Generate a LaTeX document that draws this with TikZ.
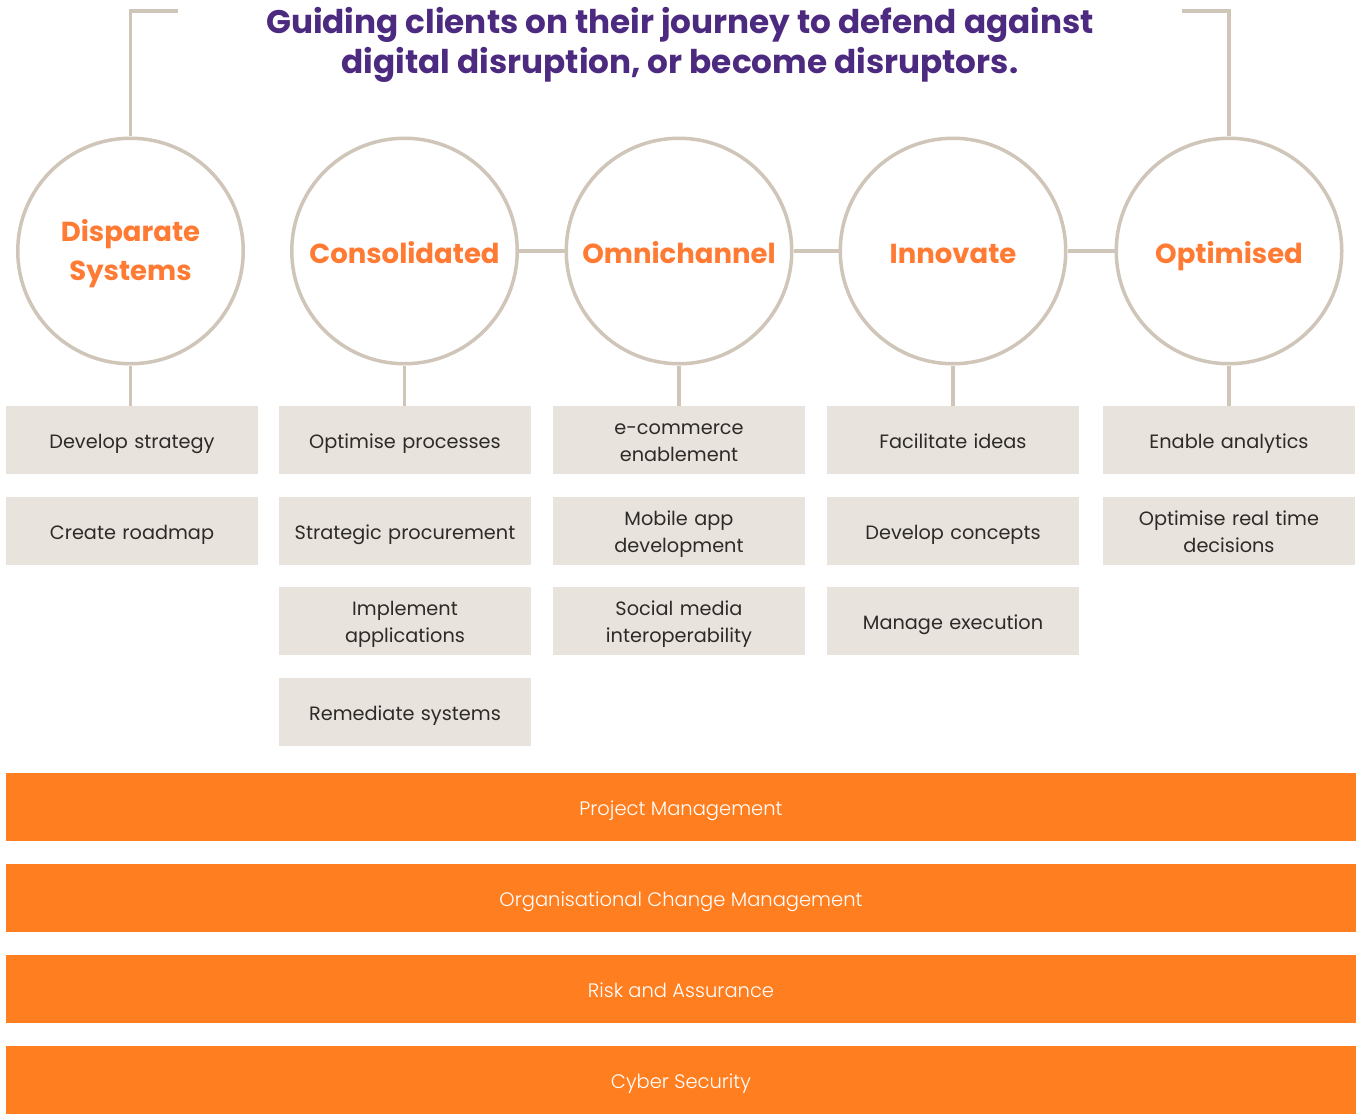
\documentclass[tikz,border=0pt]{standalone}
\usepackage{fontspec}
\setmainfont{Poppins}
\newfontfamily\lightsans{Poppins Light}
\definecolor{ringc}{RGB}{207,197,185}
\definecolor{boxc}{RGB}{232,227,221}
\definecolor{barc}{RGB}{255,127,32}
\definecolor{stagec}{RGB}{255,122,51}
\definecolor{titlec}{RGB}{76,42,128}
\definecolor{textc}{RGB}{45,42,40}
\begin{document}
\begin{tikzpicture}[x=1pt,y=-1pt,
  ring/.style={circle, draw=ringc, line width=3.5pt, minimum size=225.5pt, inner sep=0pt, fill=white},
  stagelabel/.style={text=stagec, align=center, inner sep=0pt, yshift=-4.5pt,
    font=\fontsize{27.5}{39}\selectfont\bfseries,
    execute at begin node=\strut, execute at end node=\strut},
  link/.style={draw=ringc, line width=3.5pt},
  item/.style={rectangle, fill=boxc, minimum width=252pt, minimum height=68pt, inner sep=0pt},
  itemtext/.style={text width=240pt, align=center, text=textc, inner sep=0pt, yshift=-3pt,
    font=\fontsize{19.3}{27}\selectfont,
    execute at begin node=\strut, execute at end node=\strut},
  band/.style={rectangle, fill=barc, minimum width=1350pt, minimum height=68pt, inner sep=0pt},
  bandtext/.style={text=white, align=center, inner sep=0pt, yshift=-3pt,
    font=\fontsize{19.5}{27}\selectfont\lightsans,
    execute at begin node=\strut, execute at end node=\strut},
  heading/.style={align=center, text=titlec, font=\fontsize{32.7}{40}\selectfont\bfseries}]
\useasboundingbox (0,0) rectangle (1356,1115);

% title
\node[heading] (title) at (680,45) {Guiding clients on their journey to defend against\\digital disruption, or become disruptors.};

% stage circles and their names
\node[ring] (s1) at (130.5,251) {};
\node[ring] (s2) at (404.5,251) {};
\node[ring] (s3) at (679,251) {};
\node[ring] (s4) at (953,251) {};
\node[ring] (s5) at (1229,251) {};
\node[stagelabel] (n1) at (s1) {Disparate\\Systems};
\node[stagelabel] (n2) at (s2) {Consolidated};
\node[stagelabel] (n3) at (s3) {Omnichannel};
\node[stagelabel] (n4) at (s4) {Innovate};
\node[stagelabel] (n5) at (s5) {Optimised};

% activity boxes
\node[item] (b11) at (132,440) {};
\node[item] (b12) at (132,531) {};
\node[item] (b21) at (405,440) {};
\node[item] (b22) at (405,531) {};
\node[item] (b23) at (405,621) {};
\node[item] (b24) at (405,712) {};
\node[item] (b31) at (679,440) {};
\node[item] (b32) at (679,531) {};
\node[item] (b33) at (679,621) {};
\node[item] (b41) at (953,440) {};
\node[item] (b42) at (953,531) {};
\node[item] (b43) at (953,621) {};
\node[item] (b51) at (1229,440) {};
\node[item] (b52) at (1229,531) {};

\node[itemtext] (t11) at (b11) {Develop strategy};
\node[itemtext] (t12) at (b12) {Create roadmap};
\node[itemtext] (t21) at (b21) {Optimise processes};
\node[itemtext] (t22) at (b22) {Strategic procurement};
\node[itemtext] (t23) at (b23) {Implement\\applications};
\node[itemtext] (t24) at (b24) {Remediate systems};
\node[itemtext] (t31) at (b31) {e-commerce\\enablement};
\node[itemtext] (t32) at (b32) {Mobile app\\development};
\node[itemtext] (t33) at (b33) {Social media\\interoperability};
\node[itemtext] (t41) at (b41) {Facilitate ideas};
\node[itemtext] (t42) at (b42) {Develop concepts};
\node[itemtext] (t43) at (b43) {Manage execution};
\node[itemtext] (t51) at (b51) {Enable analytics};
\node[itemtext] (t52) at (b52) {Optimise real time\\decisions};

% cross-cutting bands
\node[band] (p1) at (681,807) {};
\node[band] (p2) at (681,898) {};
\node[band] (p3) at (681,989) {};
\node[band] (p4) at (681,1080) {};
\node[bandtext] (q1) at (p1) {Project Management};
\node[bandtext] (q2) at (p2) {Organisational Change Management};
\node[bandtext] (q3) at (p3) {Risk and Assurance};
\node[bandtext] (q4) at (p4) {Cyber Security};

% connectors
\draw[link] (s2.east) -- (s3.west);
\draw[link] (s3.east) -- (s4.west);
\draw[link] (s4.east) -- (s5.west);
\draw[link] (s1.south) -- (b11.north -| s1.south);
\draw[link] (s2.south) -- (b21.north -| s2.south);
\draw[link] (s3.south) -- (b31.north -| s3.south);
\draw[link] (s4.south) -- (b41.north -| s4.south);
\draw[link] (s5.south) -- (b51.north -| s5.south);

% corner brackets
\coordinate (lc) at (130.5,11);
\coordinate (le) at (178,11);
\coordinate (rc) at (1229,11);
\coordinate (re) at (1182,11);
\draw[link] (s1.north) -- (lc) -- (le);
\draw[link] (s5.north) -- (rc) -- (re);
\end{tikzpicture}
\end{document}
